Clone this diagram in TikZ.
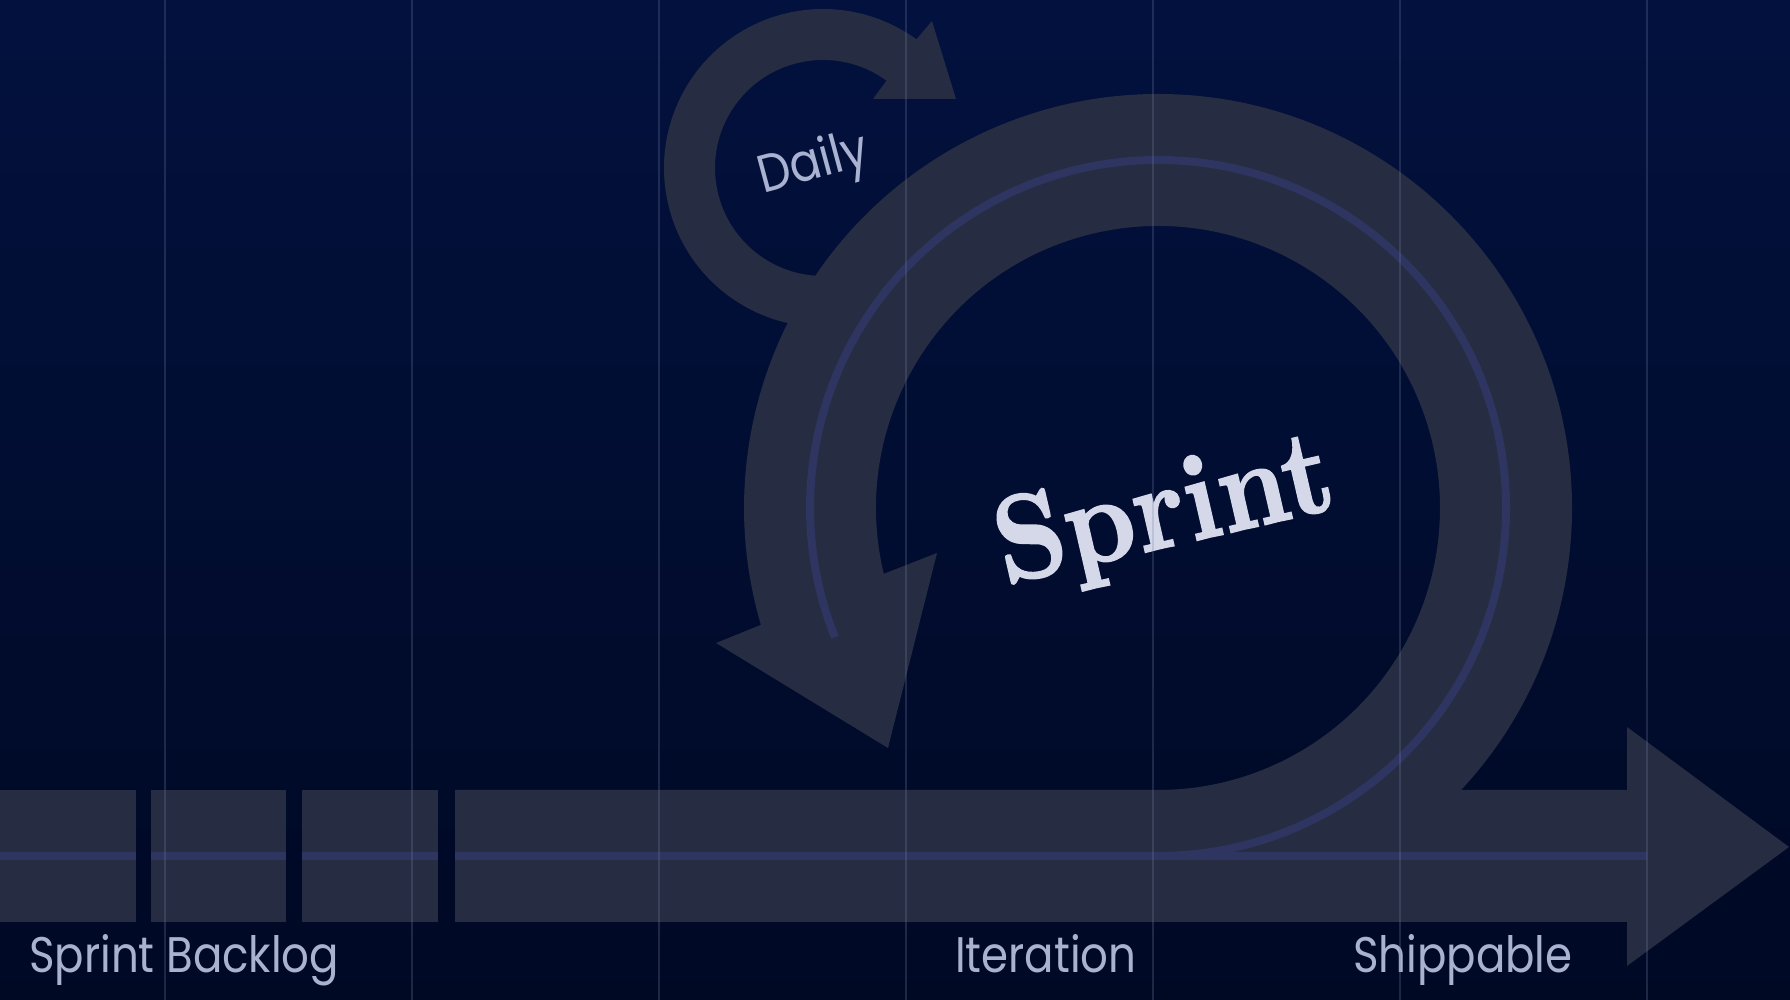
\documentclass[tikz,border=0pt]{standalone}
\usepackage{fontspec}
\newfontfamily\labelfont[FakeStretch=0.87]{Poppins}
\newfontfamily\titlefont[FakeBold=1.6]{lmroman10-bold.otf}
\usetikzlibrary{calc}
\definecolor{bgtop}{RGB}{2,17,62}
\definecolor{bgbottom}{RGB}{0,9,36}
\definecolor{loopfill}{RGB}{38,44,65}
\definecolor{loopline}{RGB}{45,53,96}
\definecolor{captioncol}{RGB}{170,178,210}
\definecolor{titlecol}{RGB}{212,216,232}
\definecolor{gridcol}{RGB}{120,130,170}

\begin{document}
\begin{tikzpicture}[x=1pt,y=1pt,
  band/.style={fill=loopfill},
  seam/.style={draw=loopline, line width=8pt},
  caption/.style={text=captioncol, inner sep=0pt, anchor=base west, font=\labelfont\fontsize{50}{60}\selectfont},
  guide/.style={draw=gridcol, draw opacity=0.25, line width=1.5pt}]
\useasboundingbox (0,0) rectangle (1790,1000);
\shade[top color=bgtop, bottom color=bgbottom] (0,0) rectangle (1790,1000);

% daily loop
\coordinate (d) at (823,832);
\fill[band] ($(d)+(280:159)$) arc[start angle=280, end angle=54, radius=159]
  -- (932,979) -- (956,901) -- (873,901)
  -- ($(d)+(54:108)$) arc[start angle=54, end angle=280, radius=108] -- cycle;

% sprint loop
\coordinate (c) at (1158,492);
\fill[band] ($(c)+(-90:414)$) arc[start angle=-90, end angle=196.4, radius=414]
  -- (716,357) -- (888,252) -- (937,447)
  -- ($(c)+(193.5:282)$) arc[start angle=193.5, end angle=-90, radius=282] -- cycle;

% backlog bar and arrow
\foreach \a/\b in {0/136, 151/286, 302/438}
  \fill[band] (\a,78) rectangle (\b,210);
\fill[band] (455,78) -- (1627,78) -- (1627,34) -- (1789,153) -- (1627,273)
  -- (1627,210) -- (455,210) -- cycle;

% seams
\draw[seam] ($(c)+(-90:348)$) arc[start angle=-90, end angle=201.8, radius=348];
\foreach \a/\b in {0/136, 151/286, 302/438, 455/1647}
  \draw[seam] (\a,144) -- (\b,144);

% labels
\node[text=captioncol, rotate=15, inner sep=0pt, font=\labelfont\fontsize{53}{56}\selectfont] (daily) at (814,834) {Daily};
\node[text=titlecol, rotate=13, inner sep=0pt, anchor=base, font=\titlefont\fontsize{122}{124}\selectfont] (sprint) at (1172,454) {\scalebox{0.9}[1]{Sprint}};
\node[caption] (backlog) at (29,27) {Sprint Backlog};
\node[caption] (iteration) at (955,27) {Iteration};
\node[caption] (shippable) at (1353,27) {Shippable};

% grid
\foreach \x in {165,412,...,1647}
  \draw[guide] (\x,0) -- (\x,1000);
\end{tikzpicture}
\end{document}
